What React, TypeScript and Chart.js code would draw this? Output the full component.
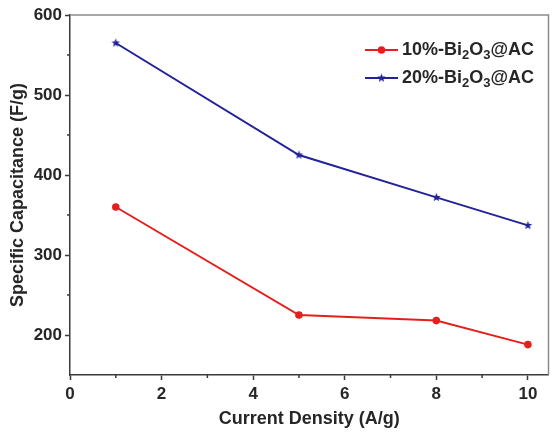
import { useEffect, useRef } from "react";
import { Chart, registerables } from "chart.js";

Chart.register(...registerables);

// Current density (A/g) and specific capacitance (F/g) of the two composites
const currentDensity = [1, 5, 8, 10];
const capacitance10 = [360, 225, 218, 188];
const capacitance20 = [565, 425, 372, 337];

const xMajorTicks = [0, 2, 4, 6, 8, 10];
const xMinorTicks = [1, 3, 5, 7, 9];
const yMajorTicks = [200, 300, 400, 500, 600];
const yMinorTicks = [250, 350, 450, 550];

// Legend labels split into normal / subscript runs
const label10: [string, boolean][] = [["10%-Bi", false], ["2", true], ["O", false], ["3", true], ["@AC", false]];
const label20: [string, boolean][] = [["20%-Bi", false], ["2", true], ["O", false], ["3", true], ["@AC", false]];

const xTitle = "Current Density (A/g)";
const yTitle = "Specific Capacitance (F/g)";

const RED = "#e5201c";
const BLUE = "#22229a";
const AXIS = "#3a3a3a";
const TEXT = "#262626";
const FONT = '"Liberation Sans", Arial, sans-serif';

function makeStar(color: string, outer: number, inner: number): HTMLCanvasElement {
  const size = Math.ceil(outer * 2 + 2);
  const c = document.createElement("canvas");
  c.width = size;
  c.height = size;
  const g = c.getContext("2d")!;
  const cx = size / 2;
  const cy = size / 2;
  g.beginPath();
  for (let i = 0; i < 10; i++) {
    const r = i % 2 === 0 ? outer : inner;
    const ang = -Math.PI / 2 + (i * Math.PI) / 5;
    const px = cx + r * Math.cos(ang);
    const py = cy + r * Math.sin(ang);
    if (i === 0) g.moveTo(px, py);
    else g.lineTo(px, py);
  }
  g.closePath();
  g.fillStyle = color;
  g.fill();
  return c;
}

function drawRichLabel(ctx: CanvasRenderingContext2D, parts: [string, boolean][], x: number, y: number) {
  let cx = x;
  for (const [t, sub] of parts) {
    ctx.font = sub ? `bold 13px ${FONT}` : `bold 18px ${FONT}`;
    ctx.fillText(t, cx, sub ? y + 5 : y);
    cx += ctx.measureText(t).width;
  }
}

export default function App() {
  const canvasRef = useRef<HTMLCanvasElement | null>(null);

  useEffect(() => {
    const canvas = canvasRef.current;
    if (!canvas) return;
    const star = makeStar(BLUE, 4.5, 2);

    const decorations = {
      id: "decorations",
      afterDraw(chart: any) {
        const { ctx, chartArea: a, scales } = chart;
        ctx.save();
        ctx.strokeStyle = AXIS;
        ctx.lineWidth = 1.5;
        // minor ticks, pointing outward
        ctx.beginPath();
        for (const v of xMinorTicks) {
          const px = scales.x.getPixelForValue(v);
          ctx.moveTo(px, a.bottom);
          ctx.lineTo(px, a.bottom + 3);
        }
        for (const v of yMinorTicks) {
          const py = scales.y.getPixelForValue(v);
          ctx.moveTo(a.left, py);
          ctx.lineTo(a.left - 3, py);
        }
        ctx.stroke();
        // top and right frame
        ctx.strokeStyle = "#8a8a8a";
        ctx.beginPath();
        ctx.moveTo(a.left, a.top);
        ctx.lineTo(a.right, a.top);
        ctx.lineTo(a.right, a.bottom);
        ctx.stroke();

        // legend
        const rows = [
          { y: 50, color: RED, parts: label10, marker: "circle" },
          { y: 78, color: BLUE, parts: label20, marker: "star" },
        ];
        for (const r of rows) {
          ctx.strokeStyle = r.color;
          ctx.lineWidth = 2;
          ctx.beginPath();
          ctx.moveTo(365, r.y);
          ctx.lineTo(398, r.y);
          ctx.stroke();
          if (r.marker === "circle") {
            ctx.fillStyle = r.color;
            ctx.beginPath();
            ctx.arc(381.5, r.y, 3.8, 0, Math.PI * 2);
            ctx.fill();
          } else {
            ctx.drawImage(star, 381.5 - star.width / 2, r.y - star.height / 2);
          }
          ctx.fillStyle = TEXT;
          ctx.textBaseline = "middle";
          ctx.textAlign = "left";
          drawRichLabel(ctx, r.parts, 402, r.y);
        }

        // axis titles
        ctx.fillStyle = TEXT;
        ctx.font = `bold 18px ${FONT}`;
        ctx.textAlign = "center";
        ctx.textBaseline = "middle";
        ctx.fillText(xTitle, (a.left + a.right) / 2, 419);
        ctx.translate(18, (a.top + a.bottom) / 2);
        ctx.rotate(-Math.PI / 2);
        ctx.fillText(yTitle, 0, 0);
        ctx.restore();
      },
    };

    const chart = new Chart(canvas, {
      type: "line",
      data: {
        datasets: [
          {
            label: "10%-Bi2O3@AC",
            data: currentDensity.map((x, i) => ({ x, y: capacitance10[i] })),
            borderColor: RED,
            backgroundColor: RED,
            borderWidth: 2,
            pointRadius: 3.8,
            pointStyle: "circle",
            pointBorderWidth: 0,
          },
          {
            label: "20%-Bi2O3@AC",
            data: currentDensity.map((x, i) => ({ x, y: capacitance20[i] })),
            borderColor: BLUE,
            backgroundColor: BLUE,
            borderWidth: 2,
            pointRadius: 4.5,
            pointStyle: star as any,
          },
        ],
      },
      options: {
        animation: false,
        responsive: false,
        maintainAspectRatio: false,
        layout: { padding: { left: 0, top: 15, right: 2, bottom: 0 } },
        plugins: { legend: { display: false }, tooltip: { enabled: false } },
        scales: {
          x: {
            type: "linear",
            min: 0,
            max: 10.45,
            afterBuildTicks: (s: any) => {
              s.ticks = xMajorTicks.map((value) => ({ value }));
            },
            afterFit: (s: any) => {
              s.height = 58;
            },
            grid: {
              drawOnChartArea: false,
              drawTicks: true,
              tickLength: 5,
              tickColor: AXIS,
              tickWidth: 1.5,
            },
            border: { display: true, color: AXIS, width: 1.5 },
            ticks: {
              color: TEXT,
              font: { family: FONT, size: 17, weight: "bold" },
              padding: 4,
              maxRotation: 0,
            },
          },
          y: {
            type: "linear",
            min: 150,
            max: 600,
            afterBuildTicks: (s: any) => {
              s.ticks = yMajorTicks.map((value) => ({ value }));
            },
            afterFit: (s: any) => {
              s.width = 70;
            },
            grid: {
              drawOnChartArea: false,
              drawTicks: true,
              tickLength: 5,
              tickColor: AXIS,
              tickWidth: 1.5,
            },
            border: { display: true, color: AXIS, width: 1.5 },
            ticks: {
              color: TEXT,
              font: { family: FONT, size: 17, weight: "bold" },
              padding: 3,
            },
          },
        },
      },
      plugins: [decorations],
    });

    return () => chart.destroy();
  }, []);

  return (
    <div style={{ position: "absolute", left: 0, top: 0, width: 555, height: 433, background: "#fff" }}>
      <canvas ref={canvasRef} width={555} height={433} style={{ display: "block" }} />
    </div>
  );
}
